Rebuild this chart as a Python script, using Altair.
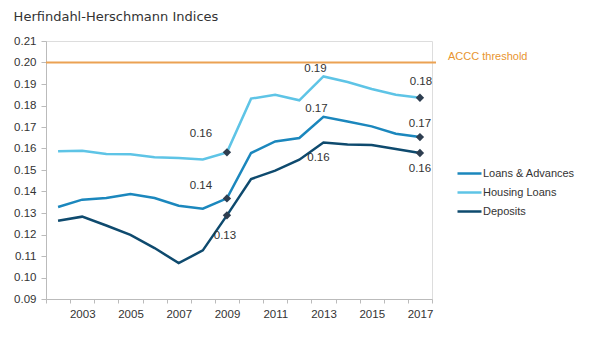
import altair as alt
import pandas as pd

years = list(range(2002, 2018))
loans_adv = [0.1328, 0.1362, 0.1370, 0.1388, 0.1370, 0.1334, 0.1320, 0.1368,
             0.1579, 0.1633, 0.1649, 0.1747, 0.1726, 0.1703, 0.1669, 0.1653]
housing = [0.1587, 0.1590, 0.1574, 0.1573, 0.1559, 0.1556, 0.1549, 0.1582,
           0.1832, 0.1850, 0.1824, 0.1935, 0.1909, 0.1877, 0.1850, 0.1836]
deposits = [0.1264, 0.1283, 0.1242, 0.1198, 0.1137, 0.1067, 0.1126, 0.1289,
            0.1458, 0.1497, 0.1548, 0.1628, 0.1619, 0.1616, 0.1598, 0.1579]
series_names = ["Loans & Advances", "Housing Loans", "Deposits"]
series_colors = ["#1b87bd", "#5ec4e6", "#0e4a6e"]
threshold = 0.20
threshold_label = "ACCC threshold"
marker_years = [2009, 2017]
label_years = [2009, 2013, 2017]
y_ticks = [0.09, 0.10, 0.11, 0.12, 0.13, 0.14, 0.15, 0.16, 0.17, 0.18, 0.19, 0.20, 0.21]
title = "Herfindahl-Herschmann Indices"

rows = []
for name, vals in zip(series_names, [loans_adv, housing, deposits]):
    for y, v in zip(years, vals):
        rows.append({"year": y, "value": v, "series": name})
df = pd.DataFrame(rows)

W, H = 386, 258
PL, PT = 46, 41
x_scale = alt.Scale(domain=[2001.5, 2017.5], nice=False, zero=False)
y_scale = alt.Scale(domain=[0.09, 0.21], nice=False, zero=False)

x_axis = alt.Axis(
    values=[y + 0.5 for y in range(2001, 2018)],
    labelExpr="(floor(datum.value) % 2 == 1 && datum.value > 2002) ? '' + floor(datum.value) : ''",
    labelOffset=-12, labelFlush=False, labelOverlap=False,
    title=None, grid=False, tickSize=4, domainColor="#bbbbbb", tickColor="#bbbbbb",
    labelFont="Liberation Sans", labelFontSize=11.5, labelColor="#333333", labelPadding=5,
)
y_axis = alt.Axis(
    values=y_ticks, format=".2f",
    labelOverlap=False, labelFlush=False,
    title=None, grid=False, tickSize=5, domainColor="#bbbbbb", tickColor="#bbbbbb",
    labelFont="Liberation Sans", labelFontSize=11.5, labelColor="#333333", labelPadding=5,
)

base = alt.Chart(df)

lines = base.mark_line(strokeWidth=2.5).encode(
    x=alt.X("year:Q", scale=x_scale, axis=x_axis),
    y=alt.Y("value:Q", scale=y_scale, axis=y_axis),
    color=alt.Color("series:N", scale=alt.Scale(domain=series_names, range=series_colors),
                    sort=series_names,
                    legend=alt.Legend(title=None, orient="none", legendX=410, legendY=124,
                                      symbolType="stroke", symbolSize=576, symbolStrokeWidth=2.5,
                                      clipHeight=17, rowPadding=2, labelOffset=0, padding=0,
                                      labelFont="Liberation Sans", labelFontSize=11,
                                      labelColor="#333333")),
)

markers = base.transform_filter(
    alt.FieldOneOfPredicate(field="year", oneOf=marker_years)
).mark_point(shape="diamond", filled=True, size=70, color="#2e3e50", opacity=1).encode(
    x=alt.X("year:Q", scale=x_scale, axis=x_axis),
    y=alt.Y("value:Q", scale=y_scale, axis=y_axis),
)

thr_df = pd.DataFrame({"v": [threshold], "label": [threshold_label]})
thr_rule = alt.Chart(thr_df).mark_rule(color="#eba253", strokeWidth=2).encode(
    y=alt.Y("v:Q", scale=y_scale, axis=y_axis), x=alt.value(0), x2=alt.value(W + 4)
)
thr_text = alt.Chart(thr_df).mark_text(
    align="left", baseline="middle", color="#e8952f", font="Liberation Sans",
    fontSize=11, dx=0, dy=-6
).encode(y=alt.Y("v:Q", scale=y_scale, axis=y_axis), x=alt.value(W + 16), text="label:N")

offsets = {
    ("Housing Loans", 2009): (-26, -18),
    ("Loans & Advances", 2009): (-26, -12),
    ("Deposits", 2009): (-2, 21),
    ("Housing Loans", 2013): (-8, -7),
    ("Loans & Advances", 2013): (-7, -8),
    ("Deposits", 2013): (-5, 16),
    ("Housing Loans", 2017): (1, -16),
    ("Loans & Advances", 2017): (0, -13),
    ("Deposits", 2017): (0, 16),
}
text_layers = []
for name in series_names:
    for yr in label_years:
        dx, dy = offsets[(name, yr)]
        t = base.transform_filter(
            (alt.datum.series == name) & (alt.datum.year == yr)
        ).transform_calculate(
            lbl="format(datum.value, '.2f')"
        ).mark_text(
            align="center", baseline="middle", dx=dx, dy=dy, color="#333333",
            font="Liberation Sans", fontSize=11.5
        ).encode(
            x=alt.X("year:Q", scale=x_scale, axis=x_axis),
            y=alt.Y("value:Q", scale=y_scale, axis=y_axis),
            text="lbl:N",
        )
        text_layers.append(t)

chart = alt.layer(thr_rule, thr_text, lines, markers, *text_layers).properties(
    width=W, height=H,
    title=alt.TitleParams(title, anchor="start", font="DejaVu Sans", fontSize=13,
                          fontWeight="normal", color="#333333", offset=11),
    autosize=alt.AutoSizeParams(type="none"),
    padding={"left": PL, "top": PT, "right": 591 - PL - W, "bottom": 337 - PT - H},
).configure_view(stroke=None).configure(background="white")

chart.save("out.html", embed_options={"renderer": "svg", "actions": False})
